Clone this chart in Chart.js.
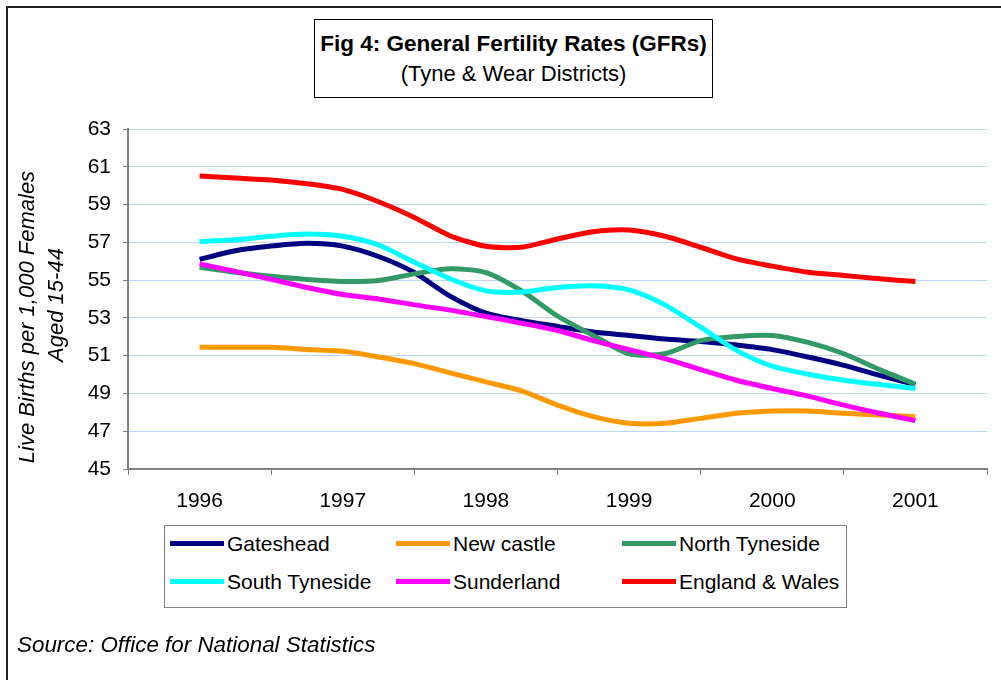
<!DOCTYPE html>
<html>
<head>
<meta charset="utf-8">
<script src="https://cdn.jsdelivr.net/npm/chart.js@4.4.1/dist/chart.umd.min.js"></script>
<style>
  html, body { margin: 0; padding: 0; background: #fff; }
  body { width: 1001px; height: 680px; position: relative; overflow: hidden;
         font-family: Arial, "Liberation Sans", sans-serif; color: #000; }
  #c { position: absolute; left: 0; top: 0; }
  .frameTop { position: absolute; left: 6px; top: 6px; width: 995px; height: 2px; background: #222; }
  .frameLeft { position: absolute; left: 6px; top: 6px; width: 2px; height: 674px; background: #222; }
  .titleBox { position: absolute; left: 314px; top: 19px; width: 397px; height: 77px;
              border: 1px solid #000; background: #fff; }
  .t1, .t2 { position: absolute; left: 0; width: 100%; text-align: center; white-space: nowrap; line-height: 26px; }
  .t1 { top: 11px; font-weight: bold; font-size: 22.5px; }
  .t2 { top: 41px; font-size: 22px; }
  .ytitle { position: absolute; white-space: nowrap; font-style: italic; font-size: 22px; line-height: 26px;
            transform: translate(-50%, -50%) rotate(-90deg); }
  .legend { position: absolute; left: 164px; top: 525px; width: 681px; height: 81px;
            border: 1px solid #808080; background: #fff; }
  .item { position: absolute; height: 26px; font-size: 21px; line-height: 26px; white-space: nowrap; }
  .sw { position: absolute; left: 0; top: 10px; width: 54px; height: 5px; }
  .lab { position: absolute; left: 57px; top: 0; }
  .source { position: absolute; left: 17px; top: 632px; font-style: italic; font-size: 22.4px; line-height: 26px; white-space: nowrap; }
</style>
</head>
<body>
<canvas id="c" width="1001" height="680"></canvas>
<div class="frameTop"></div>
<div class="frameLeft"></div>
<div class="titleBox">
  <div class="t1" id="t1"></div>
  <div class="t2" id="t2"></div>
</div>
<div class="ytitle" id="yt1" style="left:27px; top:317px;"></div>
<div class="ytitle" id="yt2" style="left:56px; top:305px;"></div>
<div class="legend" id="legend"></div>
<div class="source" id="source"></div>
<script>
// ---- data ----
const titleText = 'Fig 4: General Fertility Rates (GFRs)';
const subtitleText = '(Tyne & Wear Districts)';
const yTitleLines = ['Live Births per 1,000 Females', 'Aged 15-44'];
const sourceText = 'Source: Office for National Statistics';

const yearLabels = ['1996', '1997', '1998', '1999', '2000', '2001'];
const quarters = [1996, 1996.25, 1996.5, 1996.75, 1997, 1997.25, 1997.5, 1997.75,
                  1998, 1998.25, 1998.5, 1998.75, 1999, 1999.25, 1999.5, 1999.75,
                  2000, 2000.25, 2000.5, 2000.75, 2001];

const seriesNames = ['Gateshead', 'New castle', 'North Tyneside', 'South Tyneside', 'Sunderland', 'England & Wales'];
const seriesColors = ['#000080', '#FF9900', '#339966', '#00FFFF', '#FF00FF', '#FF0000'];

const gateshead = [56.10, 56.55, 56.80, 56.95, 56.80, 56.25, 55.40, 54.15, 53.25, 52.85, 52.55,
                   52.25, 52.07, 51.88, 51.75, 51.56, 51.32, 50.93, 50.49, 49.96, 49.47];
const newcastle = [51.44, 51.44, 51.44, 51.33, 51.23, 50.93, 50.58, 50.09, 49.61, 49.14, 48.38,
                   47.77, 47.42, 47.42, 47.68, 47.95, 48.07, 48.07, 47.95, 47.86, 47.77];
const northTyneside = [55.68, 55.42, 55.20, 55.03, 54.93, 54.98, 55.33, 55.60, 55.40, 54.43, 53.10,
                       52.07, 51.10, 51.10, 51.80, 52.02, 52.07, 51.70, 51.10, 50.26, 49.49];
const southTyneside = [57.04, 57.14, 57.32, 57.44, 57.32, 56.86, 55.95, 55.07, 54.43, 54.37, 54.61,
                       54.70, 54.48, 53.69, 52.51, 51.28, 50.44, 50.02, 49.70, 49.47, 49.26];
const sunderland = [55.86, 55.46, 55.04, 54.61, 54.24, 54.00, 53.69, 53.41, 53.07, 52.72, 52.33,
                    51.80, 51.32, 50.84, 50.26, 49.70, 49.26, 48.86, 48.38, 47.95, 47.56];
const englandWales = [60.51, 60.40, 60.30, 60.10, 59.80, 59.15, 58.32, 57.35, 56.79, 56.74, 57.18,
                      57.56, 57.65, 57.32, 56.74, 56.12, 55.74, 55.42, 55.25, 55.07, 54.93];

const yMin = 45, yMax = 63, yStep = 2;

// ---- texts ----
document.getElementById('t1').textContent = titleText;
document.getElementById('t2').textContent = subtitleText;
document.getElementById('yt1').textContent = yTitleLines[0];
document.getElementById('yt2').textContent = yTitleLines[1];
document.getElementById('source').textContent = sourceText;

// legend (3 columns x 2 rows)
const legendCols = [5, 231, 457];
const legendRows = [5, 43];
const legendEl = document.getElementById('legend');
seriesNames.forEach((name, i) => {
  const it = document.createElement('div');
  it.className = 'item';
  it.style.left = legendCols[i % 3] + 'px';
  it.style.top = legendRows[Math.floor(i / 3)] + 'px';
  const sw = document.createElement('div');
  sw.className = 'sw';
  sw.style.background = seriesColors[i];
  const lb = document.createElement('div');
  lb.className = 'lab';
  lb.textContent = name;
  it.appendChild(sw); it.appendChild(lb);
  legendEl.appendChild(it);
});

// ---- chart ----
const allSeries = [gateshead, newcastle, northTyneside, southTyneside, sunderland, englandWales];
const datasets = allSeries.map((vals, i) => ({
  label: seriesNames[i],
  data: vals.map((v, k) => ({ x: quarters[k], y: v })),
  borderColor: seriesColors[i],
  backgroundColor: seriesColors[i],
  borderWidth: 5,
  pointRadius: 0,
  pointHoverRadius: 0,
  tension: 0.25,
  fill: false,
  order: allSeries.length - i,
  borderCapStyle: 'butt',
  borderJoinStyle: 'round'
}));

Chart.defaults.font.family = 'Arial, "Liberation Sans", sans-serif';
Chart.defaults.font.size = 21;
Chart.defaults.color = '#000';

new Chart(document.getElementById('c'), {
  type: 'line',
  data: { datasets },
  options: {
    responsive: false,
    animation: false,
    devicePixelRatio: 1,
    layout: { padding: { left: 0, top: 129, right: 9, bottom: 171 } },
    plugins: { legend: { display: false }, tooltip: { enabled: false } },
    scales: {
      x: {
        type: 'linear',
        min: 1995.5,
        max: 2001.5,
        afterFit: s => { s.height = 40; },
        ticks: {
          stepSize: 0.5,
          autoSkip: false,
          maxRotation: 0,
          padding: 14,
          font: { size: 21 },
          callback: v => (Math.abs(v - Math.round(v)) < 1e-6) ? yearLabels[Math.round(v) - 1996] : ''
        },
        grid: {
          drawOnChartArea: false,
          drawTicks: true,
          tickLength: 6,
          lineWidth: 1,
          tickColor: ctx => (ctx.tick && Math.abs(ctx.tick.value - Math.round(ctx.tick.value)) > 1e-6) ? '#808080' : 'rgba(0,0,0,0)'
        },
        border: { display: true, color: '#808080', width: 2 }
      },
      y: {
        min: yMin,
        max: yMax,
        afterFit: s => { s.width = 128; },
        ticks: { stepSize: yStep, padding: 12, font: { size: 21 }, callback: v => String(v) },
        grid: {
          color: '#bdd7f3',
          lineWidth: 1,
          drawTicks: true,
          tickLength: 5,
          tickColor: '#808080'
        },
        border: { display: true, color: '#808080', width: 2 }
      }
    }
  }
});
</script>
</body>
</html>
